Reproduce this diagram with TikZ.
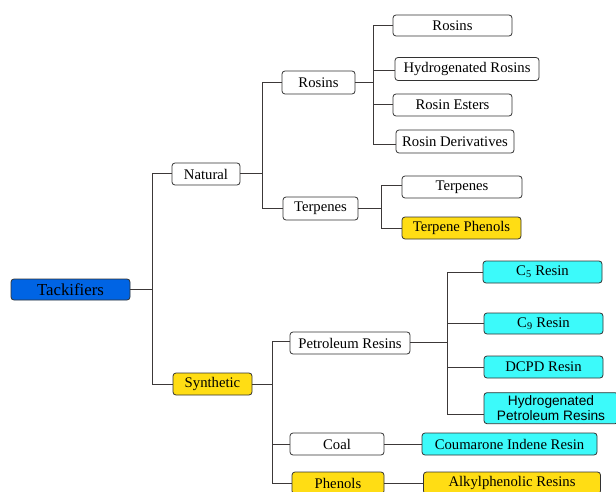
\documentclass[tikz,border=0pt]{standalone}
\usepackage{fontspec}
\setmainfont{Liberation Serif}
\newfontfamily\arialf{Liberation Sans}
\usetikzlibrary{calc}
\definecolor{tblue}{RGB}{0,100,228}
\definecolor{tyellow}{RGB}{255,221,20}
\definecolor{tcyan}{RGB}{60,250,250}
\definecolor{tline}{RGB}{60,56,56}
\definecolor{tborder}{RGB}{50,50,50}
\tikzset{
  box/.style={draw=tborder, line width=0.8pt, rounded corners=3pt, fill=white,
    inner sep=0pt, align=center, font=\fontsize{14.7}{16}\selectfont},
  yel/.style={box, fill=tyellow},
  cya/.style={box, fill=tcyan},
  conn/.style={draw=tline, line width=1pt},
}
\begin{document}
\begin{tikzpicture}[x=1pt,y=-1pt]
\path[use as bounding box] (0,0) rectangle (616,492);
\clip (0,0) rectangle (616,492);
% level 0
\node[box, fill=tblue, minimum width=119pt, minimum height=21pt, font=\fontsize{16.8}{18}\selectfont] (tack) at (70.5,289.5) {Tackifiers};
% level 1
\node[box, minimum width=68pt, minimum height=22pt] (natural) at (206,174) {Natural};
\node[yel, minimum width=79pt, minimum height=22pt] (synth) at (212.5,384) {Synthetic};
% level 2 natural
\node[box, minimum width=73pt, minimum height=23pt] (rosinsG) at (318.5,82.5) {Rosins};
\node[box, minimum width=75pt, minimum height=23pt] (terpG) at (320.5,208.5) {Terpenes};
% rosins children
\node[box, minimum width=119pt, minimum height=21pt] (rosins) at (452.5,25.5) {Rosins};
\node[box, minimum width=144pt, minimum height=23pt] (hydroR) at (467,69) {Hydrogenated Rosins};
\node[box, minimum width=119pt, minimum height=22pt] (esters) at (452.5,105) {Rosin Esters};
\node[box, minimum width=118pt, minimum height=23pt] (deriv) at (455,141.5) {Rosin Derivatives};
% terpenes children
\node[box, minimum width=120pt, minimum height=22pt] (terpenes) at (462,187) {Terpenes};
\node[yel, minimum width=119pt, minimum height=22pt] (terpPh) at (461.5,228) {Terpene Phenols};
% synthetic children
\node[box, minimum width=120pt, minimum height=22pt] (petro) at (350,343) {Petroleum Resins};
\node[box, minimum width=94pt, minimum height=22pt] (coal) at (337,444) {Coal};
\node[yel, minimum width=92pt, minimum height=22pt] (phenols) at (338,483) {Phenols};
% petroleum children
\node[cya, minimum width=119pt, minimum height=22pt] (c5) at (542.5,272) {C\textsubscript{5} Resin};
\node[cya, minimum width=119pt, minimum height=21pt] (c9) at (543.5,323.5) {C\textsubscript{9} Resin};
\node[cya, minimum width=119pt, minimum height=22pt] (dcpd) at (543.5,367) {DCPD Resin};
\node[cya, minimum width=134pt, minimum height=31pt, font=\arialf\fontsize{13.7}{14.5}\selectfont] (hpr) at (551,408.2) {Hydrogenated\\Petroleum Resins};
\node[cya, minimum width=175pt, minimum height=22pt] (coum) at (509.5,444) {Coumarone Indene Resin};
\node[yel, minimum width=177pt, minimum height=22pt] (alkyl) at (512,483) {Alkylphenolic Resins};
% connectors
\draw[conn] (tack.east) -- ++(22,0) coordinate (b0);
\draw[conn] (b0) |- (natural.west);
\draw[conn] (b0) |- (synth.west);
\draw[conn] (natural.east) -- ++(22,0) coordinate (b1);
\draw[conn] (b1) |- (rosinsG.west);
\draw[conn] (b1) |- (terpG.west);
\draw[conn] (rosinsG.east) -- ++(18,0) coordinate (b2);
\draw[conn] (b2) |- (rosins.west);
\draw[conn] (b2) |- ($(hydroR.west)+(0,1.5)$);
\draw[conn] (b2) |- (esters.west);
\draw[conn] (b2) |- ($(deriv.west)+(0,3)$);
\draw[conn] (terpG.east) -- ++(23,0) coordinate (b3);
\draw[conn] (b3) |- ($(terpenes.west)+(0,-1)$);
\draw[conn] (b3) |- (terpPh.west);
\draw[conn] (synth.east) -- ++(20,0) coordinate (b4);
\draw[conn] (b4) |- ($(petro.west)+(0,-2)$);
\draw[conn] (b4) |- (coal.west);
\draw[conn] (b4) |- (phenols.west);
\draw[conn] ($(petro.east)+(0,-1)$) -- ++(37,0) coordinate (b5);
\draw[conn] (b5) |- (c5.west);
\draw[conn] (b5) |- (c9.west);
\draw[conn] (b5) |- (dcpd.west);
\draw[conn] (b5) |- ($(hpr.west)+(0,6)$);
\draw[conn] (coal.east) -- (coum.west);
\draw[conn] (phenols.east) -- (alkyl.west);
\end{tikzpicture}
\end{document}
